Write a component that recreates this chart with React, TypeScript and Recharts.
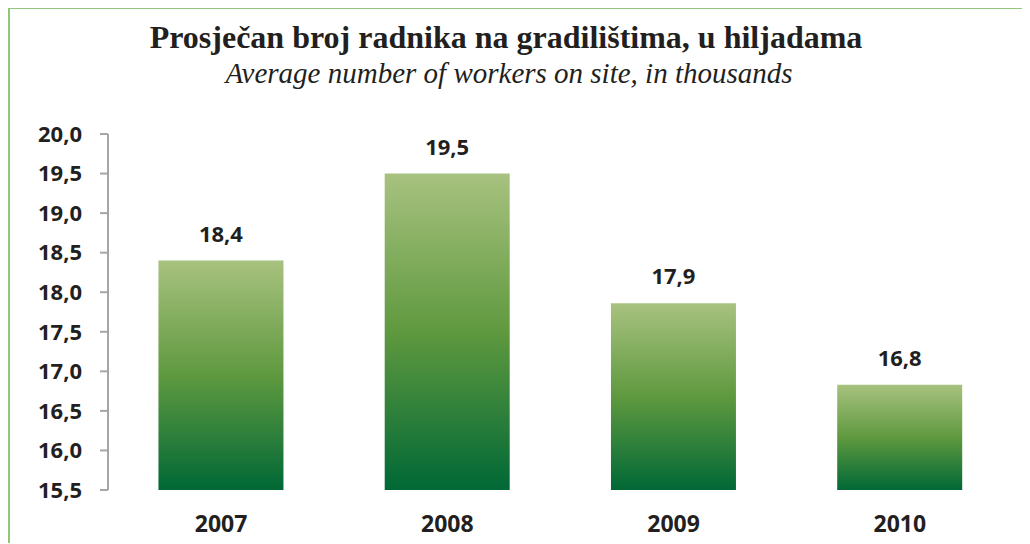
import { BarChart, Bar, XAxis, YAxis, LabelList } from "recharts";

const years = ["2007", "2008", "2009", "2010"];
const workers = [18.4, 19.5, 17.86, 16.83];
const yTicks = [15.5, 16, 16.5, 17, 17.5, 18, 18.5, 19, 19.5, 20];
const edgeTicks = [0, 1, 2, 3, 4];

const titleText = "Prosječan broj radnika na gradilištima, u hiljadama";
const subtitleText = "Average number of workers on site, in thousands";

const data = years.map((year, i) => ({ year, value: workers[i] }));

const fmt = (v: number) => v.toFixed(1).replace(".", ",");

const axisColor = "#a6a6a6";
const textColor = "#231f20";

const App = () => {
  return (
    <div
      style={{
        position: "relative",
        width: 1022,
        height: 536,
        overflow: "hidden",
        borderTop: "2px solid #8fc67c",
        borderLeft: "2px solid #8fc67c",
        boxSizing: "border-box",
        marginTop: -1,
        background: "white",
      }}
    >
      <div
        style={{
          position: "absolute",
          left: 0,
          width: 992,
          top: 10,
          textAlign: "center",
          fontFamily: "'Liberation Serif', 'Times New Roman', serif",
          fontWeight: "bold",
          fontSize: 32,
          color: textColor,
          lineHeight: "36px",
          whiteSpace: "nowrap",
        }}
      >
        {titleText}
      </div>
      <div
        style={{
          position: "absolute",
          left: 0,
          width: 998,
          top: 48,
          textAlign: "center",
          fontFamily: "'Liberation Serif', 'Times New Roman', serif",
          fontStyle: "italic",
          fontSize: 29,
          color: textColor,
          lineHeight: "32px",
          whiteSpace: "nowrap",
        }}
      >
        {subtitleText}
      </div>
      <div style={{ position: "absolute", left: -2, top: -2 }}>
        <BarChart
          width={1022}
          height={536}
          data={data}
          margin={{ top: 127, right: 17, left: 0, bottom: 0 }}
          barCategoryGap="22.3%"
        >
          <defs>
            <linearGradient id="barGreen" x1="0" y1="0" x2="0" y2="1">
              <stop offset="0%" stopColor="#a8c27f" />
              <stop offset="50%" stopColor="#5f993f" />
              <stop offset="100%" stopColor="#006836" />
            </linearGradient>
          </defs>
          <XAxis
            xAxisId="edges"
            type="number"
            domain={[0, 4]}
            ticks={edgeTicks}
            allowDataOverflow
            height={0}
            tick={false}
            tickSize={9}
            axisLine={{ stroke: axisColor, strokeWidth: 2 }}
            tickLine={{ stroke: axisColor, strokeWidth: 2 }}
          />
          <XAxis
            xAxisId="cat"
            dataKey="year"
            height={53}
            axisLine={false}
            tickLine={false}
            tickSize={0}
            tickMargin={26}
            tick={{
              fill: textColor,
              fontFamily: "'Open Sans', sans-serif",
              fontWeight: 700,
              fontSize: 23,
            }}
          />
          <YAxis
            width={100}
            domain={[15.5, 20]}
            ticks={yTicks}
            allowDataOverflow
            tickFormatter={fmt}
            tickSize={8}
            tickMargin={18}
            axisLine={{ stroke: axisColor, strokeWidth: 2 }}
            tickLine={{ stroke: axisColor, strokeWidth: 2 }}
            tick={{
              fill: textColor,
              fontFamily: "'Open Sans', sans-serif",
              fontWeight: 700,
              fontSize: 22,
            }}
          />
          <Bar
            dataKey="value"
            xAxisId="cat"
            fill="url(#barGreen)"
            isAnimationActive={false}
          >
            <LabelList
              dataKey="value"
              position="top"
              offset={19}
              formatter={(v: any) => fmt(Number(v))}
              style={{
                fill: textColor,
                fontFamily: "'Open Sans', sans-serif",
                fontWeight: 700,
                fontSize: 22,
              }}
            />
          </Bar>
        </BarChart>
      </div>
    </div>
  );
};

export default App;
